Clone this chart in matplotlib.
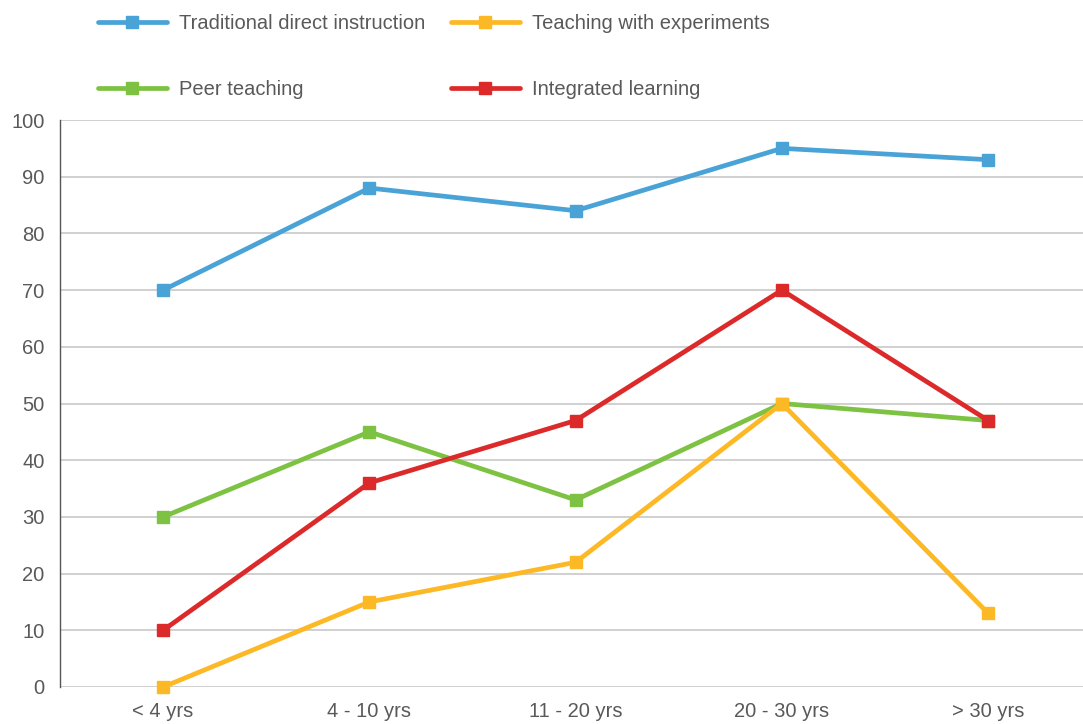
import matplotlib
matplotlib.use("Agg")
import matplotlib.pyplot as plt

categories = ["< 4 yrs", "4 - 10 yrs", "11 - 20 yrs", "20 - 30 yrs", "> 30 yrs"]
traditional = [70, 88, 84, 95, 93]
experiments = [0, 15, 22, 50, 13]
peer = [30, 45, 33, 50, 47]
integrated = [10, 36, 47, 70, 47]

plt.rcParams['font.family'] = ['Liberation Sans', 'DejaVu Sans']
text_color = '#595959'

fig = plt.figure(figsize=(10.83, 7.24), dpi=100)
ax = fig.add_axes([60 / 1083, 1 - 687 / 724, 1 - 60 / 1083, (687 - 120) / 724])

x = list(range(len(categories)))
series = [
  ("Traditional direct instruction", traditional, '#4aa3d7'),
  ("Peer teaching", peer, '#7dc242'),
  ("Teaching with experiments", experiments, '#fdb825'),
  ("Integrated learning", integrated, '#dc2a2a'),
]
# draw in order so red/yellow sit on top like the original
handles = {}
for name, vals, col in [series[0], series[1], series[3], series[2]]:
  h, = ax.plot(x, vals, color=col, lw=3.4, marker='s', markersize=9,
               solid_capstyle='round', label=name, clip_on=False, zorder=3)
  handles[name] = h

ax.set_xlim(-0.5, 4.46)
ax.set_ylim(0, 100)
ax.set_yticks(range(0, 101, 10))
ax.set_xticks(x)
ax.set_xticklabels(categories)
ax.yaxis.grid(True, color='#c8c8c8', lw=1.2)
ax.set_axisbelow(True)
for s in ['top', 'right', 'bottom']:
  ax.spines[s].set_visible(False)
ax.spines['left'].set_color('#555555')
ax.spines['left'].set_linewidth(1)
ax.tick_params(axis='both', length=0, labelsize=14.5, colors=text_color)
ax.tick_params(axis='y', pad=11)
ax.tick_params(axis='x', pad=11)

order = [s[0] for s in series]
leg = ax.legend([handles[n] for n in order], order, ncol=2, frameon=False,
                loc='upper left', bbox_to_anchor=(30 / 1023, 1 + 114 / 567),
                fontsize=14.5, labelspacing=2.35, handlelength=3.4,
                handletextpad=0.6, columnspacing=1.3, borderaxespad=0)
for t in leg.get_texts():
  t.set_color(text_color)

fig.savefig("out.png", dpi=100)
